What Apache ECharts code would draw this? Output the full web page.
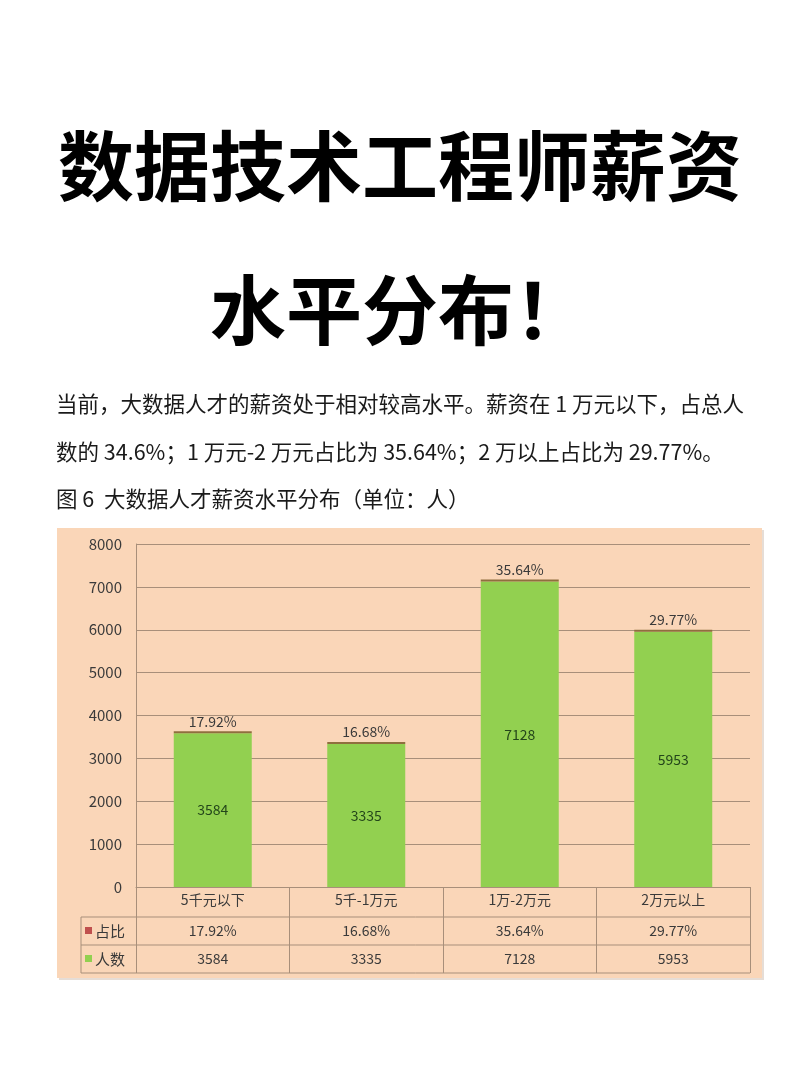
<!DOCTYPE html>
<html>
<head>
<meta charset="utf-8">
<title>数据技术工程师薪资水平分布</title>
<script src="https://cdn.jsdelivr.net/npm/echarts@6/dist/echarts.min.js"></script>
<style>
  html, body { margin: 0; padding: 0; background: #fff; }
  #main { width: 800px; height: 1068px; }
</style>
</head>
<body>
<div id="main"></div>
<script>
// 数据
var categories = ['5千元以下', '5千-1万元', '1万-2万元', '2万元以上'];
var headcount = [3584, 3335, 7128, 5953];   // 人数
var share = [17.92, 16.68, 35.64, 29.77];   // 占比 (%)
var rowNames = ['占比', '人数'];
var rowColors = ['#c0504d', '#92d050'];

var titleLine1 = '数据技术工程师薪资';
var titleLine2 = '水平分布！';
var paraLine1 = '当前，大数据人才的薪资处于相对较高水平。薪资在 1 万元以下，占总人';
var paraLine2 = '数的 34.6%；1 万元-2 万元占比为 35.64%；2 万以上占比为 29.77%。';
var caption = '图 6  大数据人才薪资水平分布（单位：人）';

var FONT = '"Noto Sans CJK SC", "Noto Sans", sans-serif';
var lineColor = '#a88f7a';
var textColor = '#3a3a3a';

var myChart = echarts.init(document.getElementById('main'));

var option = {
    backgroundColor: '#ffffff',
    animation: false,
    textStyle: { fontFamily: FONT },
    grid: { left: 136, right: 50, top: 544, bottom: 181 },
    xAxis: {
        type: 'category',
        data: categories,
        axisLine: { show: true, lineStyle: { color: lineColor, width: 1 } },
        axisTick: { show: true, length: 86, lineStyle: { color: lineColor, width: 1 } },
        axisLabel: { margin: 6, fontSize: 14, color: textColor, fontFamily: FONT }
    },
    yAxis: {
        type: 'value',
        min: 0,
        max: 8000,
        interval: 1000,
        axisLine: { show: true, lineStyle: { color: lineColor, width: 1 } },
        axisTick: { show: false },
        axisLabel: {
            margin: 14, fontSize: 15, color: textColor, fontFamily: FONT,
            formatter: function (v) { return String(v); }
        },
        splitLine: { show: true, lineStyle: { color: lineColor, width: 1 } }
    },
    series: [
        {
            name: '人数',
            type: 'bar',
            stack: 'total',
            barWidth: 78,
            data: headcount,
            itemStyle: { color: '#92d050' },
            label: {
                show: true,
                position: 'inside',
                fontSize: 14,
                color: '#23451a',
                fontFamily: FONT
            },
            z: 3
        },
        {
            name: '占比',
            type: 'bar',
            stack: 'total',
            barWidth: 78,
            barMinHeight: 2,
            data: share,
            itemStyle: { color: '#8f6f3e' },
            label: {
                show: true,
                position: 'top',
                distance: 3,
                fontSize: 14,
                color: textColor,
                fontFamily: FONT,
                formatter: function (p) { return p.value.toFixed(2) + '%'; }
            },
            z: 3
        }
    ],
    graphic: []
};

myChart.setOption(option);

// 表格与文字
var g = [];
// 背景面板
g.push({
    type: 'rect', z: -10, silent: true,
    shape: { x: 59, y: 530, width: 705, height: 450 },
    style: { fill: '#e6ddd6' }
});
g.push({
    type: 'rect', z: -9, silent: true,
    shape: { x: 57, y: 528, width: 705, height: 450 },
    style: { fill: '#fad6b8' }
});

// 标题
g.push({
    type: 'text', left: 'center', top: 128,
    style: { text: titleLine1, font: 'bold 76px ' + FONT, fill: '#000' }
});
g.push({
    type: 'text', left: 'center', top: 272,
    style: { text: titleLine2, font: 'bold 76px ' + FONT, fill: '#000' }
});
// 段落
g.push({
    type: 'text', left: 56, top: 393,
    style: { text: paraLine1, font: '21.5px ' + FONT, fill: '#1a1a1a' }
});
g.push({
    type: 'text', left: 56, top: 441,
    style: { text: paraLine2, font: '21.5px ' + FONT, fill: '#1a1a1a' }
});
g.push({
    type: 'text', left: 56, top: 488,
    style: { text: caption, font: '21.5px ' + FONT, fill: '#1a1a1a' }
});

// 数据表
var tLeft = 81, tRight = 750;
var rowTops = [917, 945, 973];
rowTops.forEach(function (y) {
    g.push({
        type: 'line', silent: true,
        shape: { x1: tLeft, y1: y, x2: tRight, y2: y },
        style: { stroke: lineColor, lineWidth: 1 }
    });
});
g.push({
    type: 'line', silent: true,
    shape: { x1: tLeft, y1: rowTops[0], x2: tLeft, y2: rowTops[2] },
    style: { stroke: lineColor, lineWidth: 1 }
});

var rowData = [
    share.map(function (v) { return v.toFixed(2) + '%'; }),
    headcount.map(function (v) { return String(v); })
];
for (var r = 0; r < 2; r++) {
    var cy = (rowTops[r] + rowTops[r + 1]) / 2;
    g.push({
        type: 'rect', silent: true,
        shape: { x: 85, y: cy - 4, width: 7, height: 7 },
        style: { fill: rowColors[r] }
    });
    g.push({
        type: 'text', silent: true,
        x: 95, y: cy,
        style: { text: rowNames[r], font: '15px ' + FONT, fill: textColor, textVerticalAlign: 'middle' }
    });
    for (var i = 0; i < categories.length; i++) {
        var px = myChart.convertToPixel({ xAxisIndex: 0 }, i);
        g.push({
            type: 'text', silent: true,
            x: px, y: cy,
            style: { text: rowData[r][i], font: '14px ' + FONT, fill: textColor, textAlign: 'center', textVerticalAlign: 'middle' }
        });
    }
}

myChart.setOption({ graphic: g });
</script>
</body>
</html>
